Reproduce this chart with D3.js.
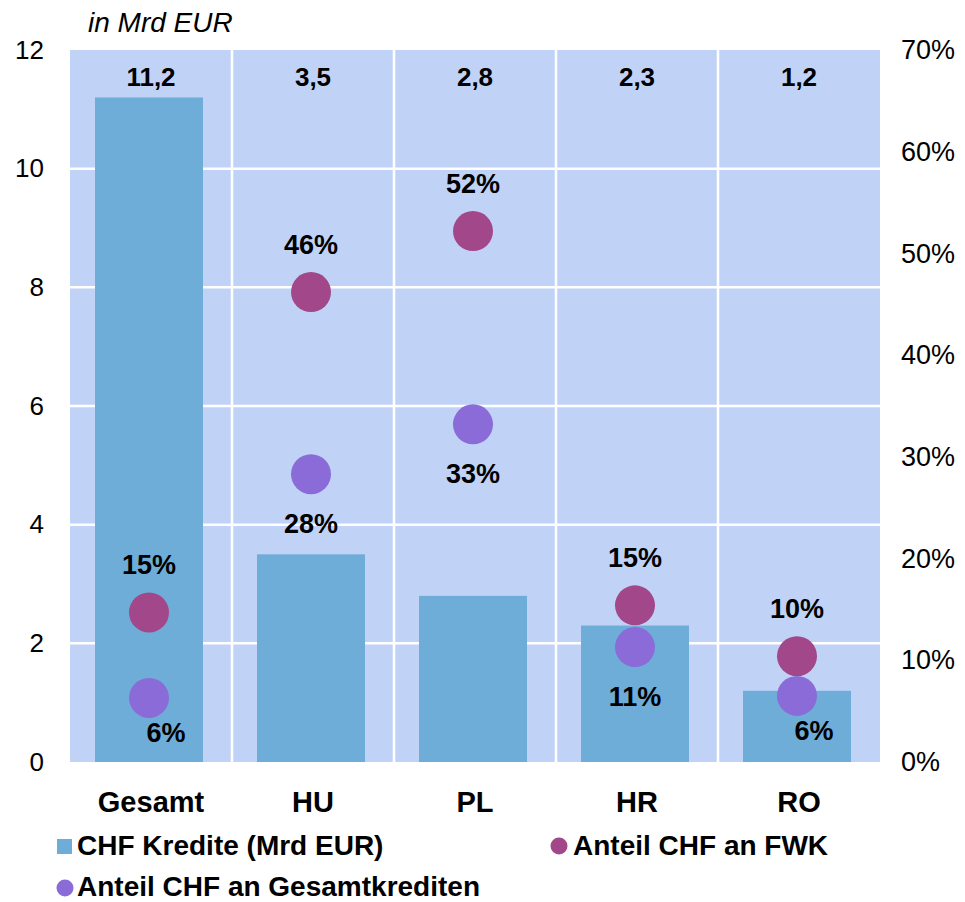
<!DOCTYPE html>
<html>
<head>
<meta charset="utf-8">
<script src="https://cdn.jsdelivr.net/npm/d3@7"></script>
<style>
  body { margin: 0; background: #fff; }
  text { font-family: "Liberation Sans", Arial, sans-serif; }
</style>
</head>
<body>
<div id="chart"></div>
<script>
// categories and values
const categories = ["Gesamt", "HU", "PL", "HR", "RO"];
const chfKredite = [11.2, 3.5, 2.8, 2.3, 1.2];           // Mrd EUR, left axis
const anteilFWK = [14.7, 46.2, 52.2, 15.4, 10.4];         // %, right axis
const anteilGesamt = [6.3, 28.3, 33.2, 11.3, 6.5];        // %, right axis
const fwkLabels = ["15%", "46%", "52%", "15%", "10%"];
const gesamtLabels = ["6%", "28%", "33%", "11%", "6%"];
const leftTicks = [0, 2, 4, 6, 8, 10, 12];
const rightTicks = [0, 10, 20, 30, 40, 50, 60, 70];

const width = 965, height = 902;
const margin = {top: 50, right: 85, bottom: 140, left: 70};
const innerW = width - margin.left - margin.right;
const innerH = height - margin.top - margin.bottom;

const colBar = "#6fadd9", colFWK = "#a2478a", colGes = "#8a6bd8", colBg = "#c0d3f7";

const svg = d3.select("#chart").append("svg")
    .attr("width", width)
    .attr("height", height);

const g = svg.append("g")
    .attr("transform", `translate(${margin.left},${margin.top})`);

const x = d3.scaleBand().domain(categories).range([0, innerW]).paddingInner(0).paddingOuter(0);
const yL = d3.scaleLinear().domain([0, 12]).range([innerH, 0]);
const yR = d3.scaleLinear().domain([0, 70]).range([innerH, 0]);

// background + white grid
g.append("rect").attr("width", innerW).attr("height", innerH).attr("fill", colBg);
g.selectAll(".hgrid").data(leftTicks.slice(1, -1)).join("line")
    .attr("x1", 0).attr("x2", innerW)
    .attr("y1", d => yL(d)).attr("y2", d => yL(d))
    .attr("stroke", "#fff").attr("stroke-width", 2.5);
g.selectAll(".vgrid").data(categories.slice(1)).join("line")
    .attr("x1", d => x(d)).attr("x2", d => x(d))
    .attr("y1", 0).attr("y2", innerH)
    .attr("stroke", "#fff").attr("stroke-width", 2.5);

// bars
const bw = x.bandwidth() * 2 / 3;
g.selectAll(".bar").data(chfKredite).join("rect")
    .attr("x", (d, i) => x(categories[i]) + (x.bandwidth() - bw) / 2 - 2)
    .attr("y", d => yL(d))
    .attr("width", bw)
    .attr("height", d => innerH - yL(d))
    .attr("fill", colBar);

// bar value labels along the top of the plot
g.selectAll(".barlab").data(chfKredite).join("text")
    .attr("x", (d, i) => x(categories[i]) + x.bandwidth() / 2)
    .attr("y", yL(11.55))
    .attr("dy", "0.35em")
    .attr("text-anchor", "middle")
    .attr("font-size", 26).attr("font-weight", "bold")
    .text(d => d.toFixed(1).replace(".", ","));

// dots
const cx = i => x(categories[i]) + x.bandwidth() / 2 - 2;
g.selectAll(".dotF").data(anteilFWK).join("circle")
    .attr("cx", (d, i) => cx(i)).attr("cy", d => yR(d))
    .attr("r", 20).attr("fill", colFWK);
g.selectAll(".dotG").data(anteilGesamt).join("circle")
    .attr("cx", (d, i) => cx(i)).attr("cy", d => yR(d))
    .attr("r", 20).attr("fill", colGes);

g.selectAll(".labF").data(anteilFWK).join("text")
    .attr("x", (d, i) => cx(i)).attr("y", d => yR(d) - 48)
    .attr("dy", "0.35em").attr("text-anchor", "middle")
    .attr("font-size", 27).attr("font-weight", "bold")
    .text((d, i) => fwkLabels[i]);
g.selectAll(".labG").data(anteilGesamt).join("text")
    .attr("x", (d, i) => cx(i) + (d < 8 ? 17 : 0)).attr("y", d => yR(d) + (d < 8 ? 35 : 49))
    .attr("dy", "0.35em").attr("text-anchor", "middle")
    .attr("font-size", 27).attr("font-weight", "bold")
    .text((d, i) => gesamtLabels[i]);

// axes
const axL = g.append("g")
    .call(d3.axisLeft(yL).tickValues(leftTicks).tickSize(0).tickPadding(26));
const axR = g.append("g")
    .attr("transform", `translate(${innerW},0)`)
    .call(d3.axisRight(yR).tickValues(rightTicks).tickSize(0).tickPadding(21).tickFormat(d => d + "%"));
const axB = g.append("g")
    .attr("transform", `translate(0,${innerH})`)
    .call(d3.axisBottom(x).tickSize(0).tickPadding(29));
[axL, axR, axB].forEach(a => a.select(".domain").remove());
axL.selectAll("text").attr("font-size", 26).attr("font-family", "Liberation Sans").attr("fill", "#000");
axR.selectAll("text").attr("font-size", 27).attr("font-family", "Liberation Sans").attr("fill", "#000");
axB.selectAll("text").attr("font-size", 29).attr("font-weight", "bold").attr("font-family", "Liberation Sans").attr("fill", "#000");

// unit title
svg.append("text")
    .attr("x", 88).attr("y", 32)
    .attr("font-size", 28).attr("font-style", "italic")
    .text("in Mrd EUR");

// legend
const leg = svg.append("g").attr("font-size", 28).attr("font-weight", "bold");
leg.append("rect").attr("x", 57).attr("y", 839).attr("width", 15).attr("height", 15).attr("fill", colBar);
leg.append("text").attr("x", 77).attr("y", 855).text("CHF Kredite (Mrd EUR)");
leg.append("circle").attr("cx", 559).attr("cy", 846).attr("r", 8.5).attr("fill", colFWK);
leg.append("text").attr("x", 573).attr("y", 855).text("Anteil CHF an FWK");
leg.append("circle").attr("cx", 65).attr("cy", 888).attr("r", 8.5).attr("fill", colGes);
leg.append("text").attr("x", 77).attr("y", 896).text("Anteil CHF an Gesamtkrediten");
</script>
</body>
</html>
